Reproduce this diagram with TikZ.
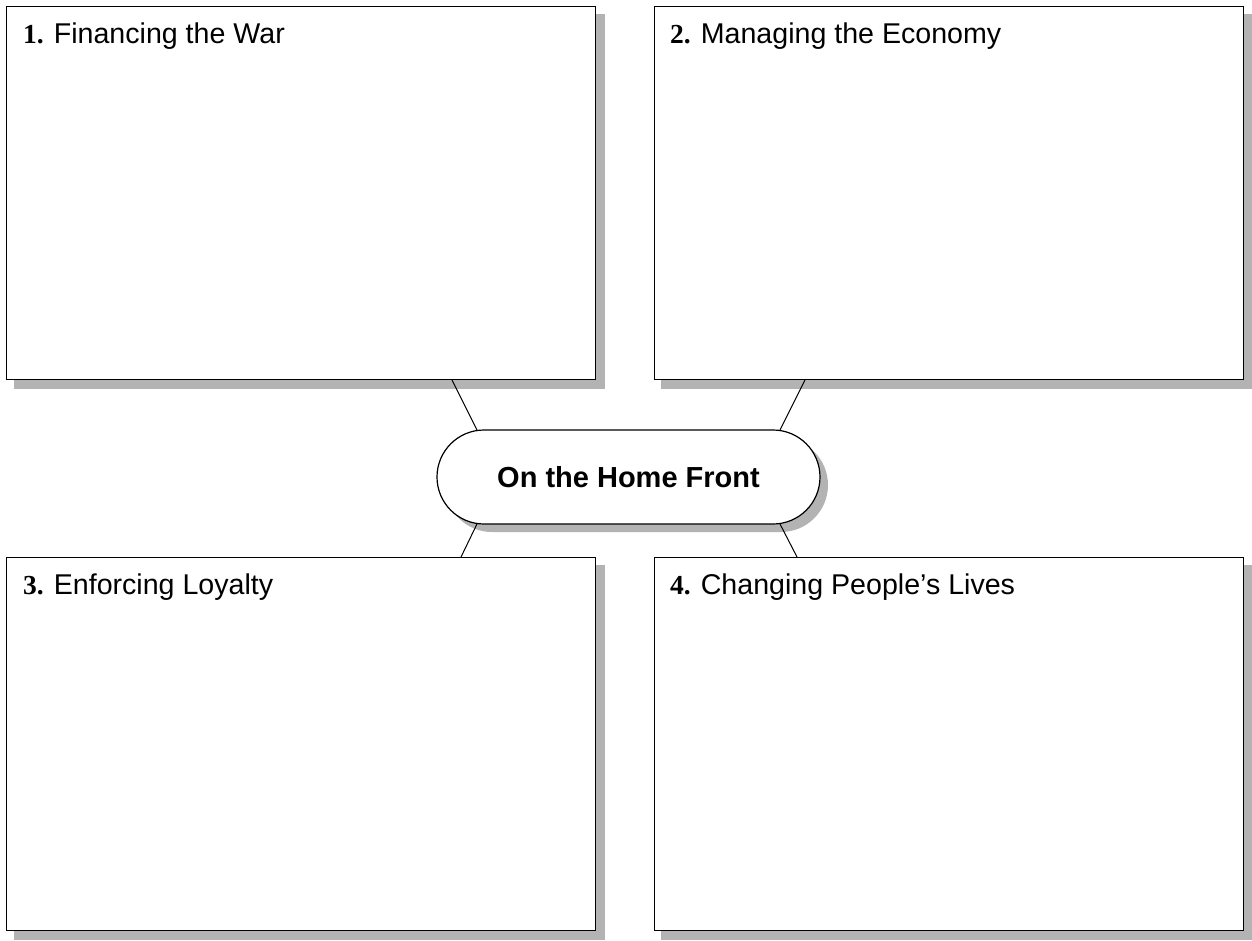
\documentclass[tikz,border=0pt]{standalone}
\usepackage{fontspec}
\setmainfont{Liberation Sans}
\newfontfamily\numfont{Liberation Serif}
\definecolor{shadowgray}{RGB}{179,179,179}
\newcommand{\numlab}[1]{{\numfont\bfseries\fontsize{27.5}{30}\selectfont #1}\hspace{10pt}}
\tikzset{
  box/.style={draw=black, line width=1.4pt, fill=white, minimum width=589pt, minimum height=373pt, inner sep=0pt, anchor=north west},
  boxshadow/.style={fill=shadowgray, draw=none},
  label/.style={anchor=base west, inner sep=0pt, font=\fontsize{28.6}{32}\selectfont},
  link/.style={draw=black, line width=1pt},
  hub/.style={draw=black, line width=1.2pt, fill=white, rounded corners=47pt, minimum width=383pt, minimum height=94pt, inner sep=0pt, font=\bfseries\fontsize{29}{33}\selectfont}
}
\begin{document}
\begin{tikzpicture}[x=1pt,y=-1pt]
\useasboundingbox (0,0) rectangle (1252,940);
% shadows
\fill[boxshadow] (14,14) rectangle (605,389);
\fill[boxshadow] (661,14) rectangle (1252,389);
\fill[boxshadow] (14,565) rectangle (605,940);
\fill[boxshadow] (661,565) rectangle (1252,940);
\fill[boxshadow, rounded corners=47pt] (445,438) rectangle (828,532);
% boxes
\node[box] (b1) at (6,6) {};
\node[box] (b2) at (654,6) {};
\node[box] (b3) at (6,557) {};
\node[box] (b4) at (654,557) {};
% hub
\node[hub] (hub) at (628.5,477) {On the Home Front};
% connectors
\coordinate (t1) at (452,380);
\coordinate (h1) at (477,430);
\coordinate (t2) at (805,380);
\coordinate (h2) at (780,430);
\coordinate (h3) at (477,524);
\coordinate (t3) at (461,557);
\coordinate (h4) at (780,524);
\coordinate (t4) at (797,557);
\draw[link] (t1) -- (h1);
\draw[link] (t2) -- (h2);
\draw[link] (h3) -- (t3);
\draw[link] (h4) -- (t4);
% labels
\node[label] (l1) at (23,43) {\numlab{1.}Financing the War};
\node[label] (l2) at (670,43) {\numlab{2.}Managing the Economy};
\node[label] (l3) at (23,594) {\numlab{3.}Enforcing Loyalty};
\node[label] (l4) at (670,594) {\numlab{4.}Changing People’s Lives};
\end{tikzpicture}
\end{document}
